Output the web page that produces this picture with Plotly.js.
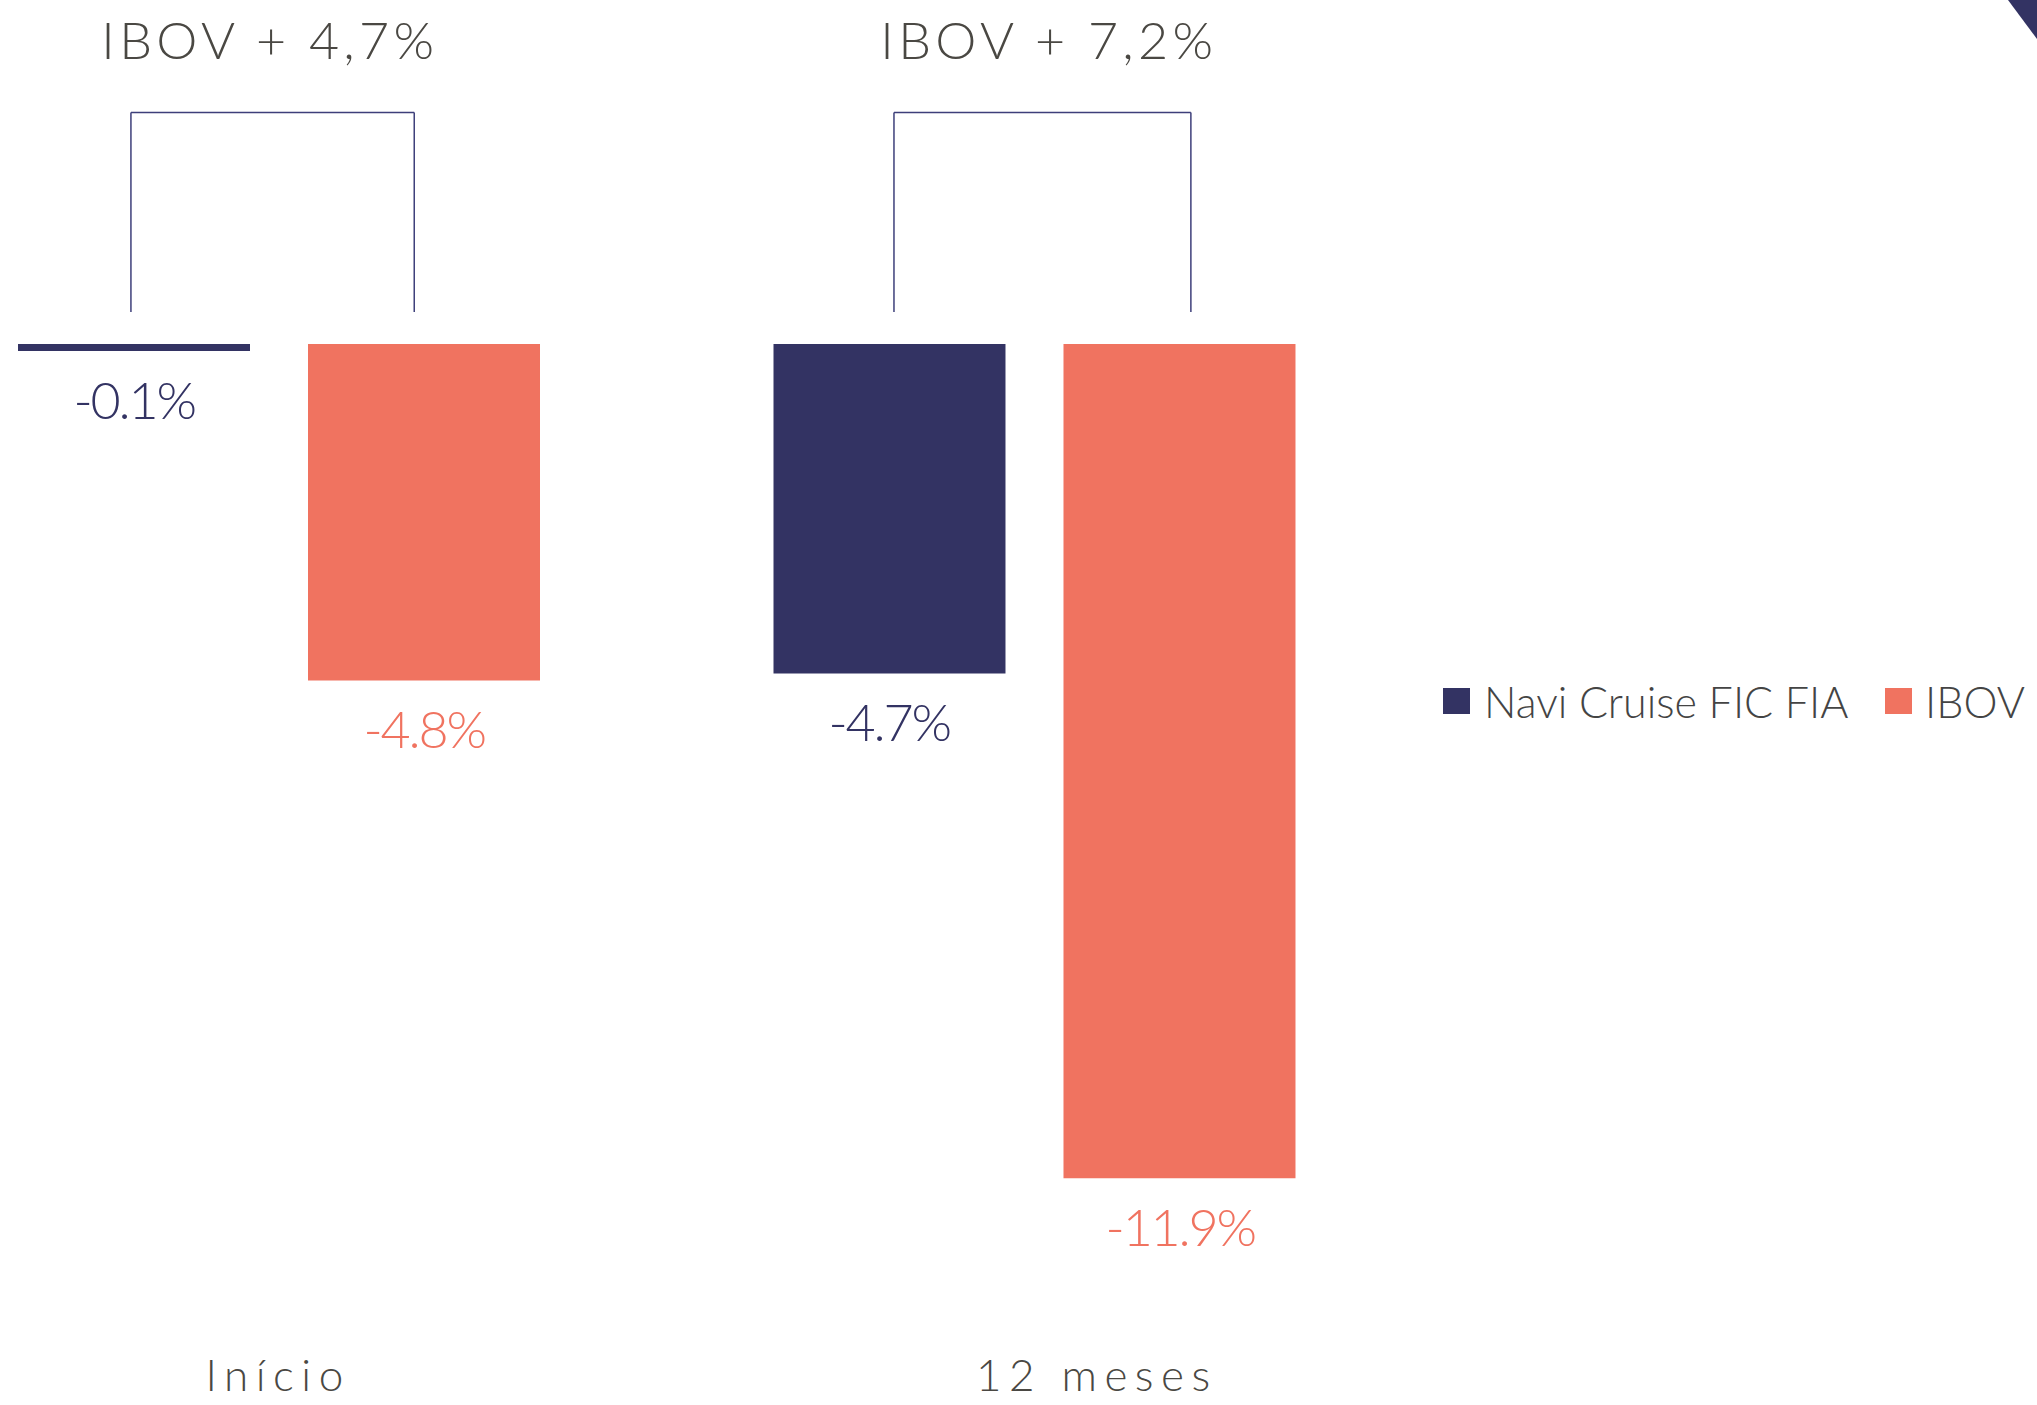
<!DOCTYPE html>
<html><head><meta charset="utf-8">
<script src="https://cdn.plot.ly/plotly-3.0.1.min.js"></script>
<style>html,body{margin:0;padding:0;background:#fff;overflow:hidden}</style>
</head><body><div id="chart" style="width:2037px;height:1405px"></div>
<script>
// ---- data ----
const categories = ["Início", "12 meses"];
const seriesNames = ["Navi Cruise FIC FIA", "IBOV"];
const naviValues = [-0.1, -4.7];
const ibovValues = [-4.8, -11.9];
const naviLabels = ["-0.1%", "-4.7%"];
const ibovLabels = ["-4.8%", "-11.9%"];
const spreadLabels = ["IBOV + 4,7%", "IBOV + 7,2%"];

// ---- style ----
const W = 2037, H = 1405;
const NAVY = "#333363", CORAL = "#F07360", GRAY = "#4a4843", LINE = "#3d3f7a";
const FONT = "Lato, 'Open Sans', sans-serif";
const barOffset = 0.192;                 // half the distance between grouped bar centers (category units)
const bracketLeft = [-0.196, -0.186];
const bracketRight = [0.179, 0.207];
const titleShift = [-0.012, 0.019];
const catShift = [-0.001, 0.083];
const py = p => 1 - p / H;               // pixel -> paper y
const px = p => p / W;                   // pixel -> paper x

const traces = [
  {type: "bar", name: seriesNames[0], x: categories, y: naviValues,
   marker: {color: NAVY}, hoverinfo: "skip"},
  {type: "bar", name: seriesNames[1], x: categories, y: ibovValues,
   marker: {color: CORAL}, hoverinfo: "skip"}
];

const shapes = [];
const annotations = [];
const spacing = [];

categories.forEach((c, i) => {
  const l = i + bracketLeft[i], r = i + bracketRight[i];
  const lineStyle = {color: LINE, width: 1.5};
  shapes.push({type: "line", xref: "x", yref: "paper", x0: l, x1: l, y0: py(312), y1: py(112.5), line: lineStyle});
  shapes.push({type: "line", xref: "x", yref: "paper", x0: r, x1: r, y0: py(312), y1: py(112.5), line: lineStyle});
  shapes.push({type: "line", xref: "x", yref: "paper", x0: l, x1: r, y0: py(112.5), y1: py(112.5), line: lineStyle});

  annotations.push({text: spreadLabels[i], xref: "x", yref: "paper", x: i + titleShift[i], y: py(39),
    xanchor: "center", yanchor: "middle", showarrow: false,
    font: {family: FONT, size: 52, color: GRAY, weight: 300}});
  spacing.push(4.3);

  annotations.push({text: naviLabels[i], xref: "x", yref: "y", x: i - barOffset, y: naviValues[i],
    xanchor: "center", yanchor: "top", yshift: -15, showarrow: false,
    font: {family: FONT, size: 52, color: NAVY, weight: 300}});
  spacing.push(-2.2);
  annotations.push({text: ibovLabels[i], xref: "x", yref: "y", x: i + barOffset, y: ibovValues[i],
    xanchor: "center", yanchor: "top", yshift: -15, showarrow: false,
    font: {family: FONT, size: 52, color: CORAL, weight: 300}});
  spacing.push(-2.2);

  annotations.push({text: c, xref: "x", yref: "paper", x: i + catShift[i], y: py(1374),
    xanchor: "center", yanchor: "middle", showarrow: false,
    font: {family: FONT, size: 44, color: GRAY, weight: 300}});
  spacing.push(7.5);
});

// manual legend
const legendItems = [
  {name: seriesNames[0], color: NAVY, sq: 1443, tx: 1482},
  {name: seriesNames[1], color: CORAL, sq: 1885, tx: 1923}
];
legendItems.forEach(it => {
  shapes.push({type: "rect", xref: "paper", yref: "paper", x0: px(it.sq), x1: px(it.sq + 27),
    y0: py(714), y1: py(688), fillcolor: it.color, line: {width: 0}});
  annotations.push({text: it.name, xref: "paper", yref: "paper", x: px(it.tx), y: py(701),
    xanchor: "left", yanchor: "middle", showarrow: false,
    font: {family: FONT, size: 43, color: "#444444", weight: 300}});
  spacing.push(0);
});

// corner decoration
shapes.push({type: "path", xref: "paper", yref: "paper",
  path: `M ${px(2008)} 1 L 1 1 L 1 ${py(39)} Z`, fillcolor: NAVY, line: {width: 0}});

const layout = {
  width: W, height: H,
  margin: {l: 0, r: 0, t: 0, b: 0, pad: 0},
  paper_bgcolor: "#ffffff", plot_bgcolor: "#ffffff",
  showlegend: false,
  barmode: "group", bargap: 0.2323, bargroupgap: 0.2,
  xaxis: {type: "category", domain: [0, 1400 / W], range: [-0.3693, 1.4838], visible: false, fixedrange: true},
  yaxis: {range: [-15.136, 4.907], visible: false, zeroline: false, fixedrange: true},
  shapes: shapes,
  annotations: annotations
};

Plotly.newPlot("chart", traces, layout, {displayModeBar: false, staticPlot: true}).then(() => {
  document.querySelectorAll("g.annotation").forEach(g => {
    const k = +g.getAttribute("data-index");
    const t = g.querySelector("text.annotation-text");
    if (t && spacing[k]) t.style.letterSpacing = spacing[k] + "px";
  });
});
</script></body></html>
